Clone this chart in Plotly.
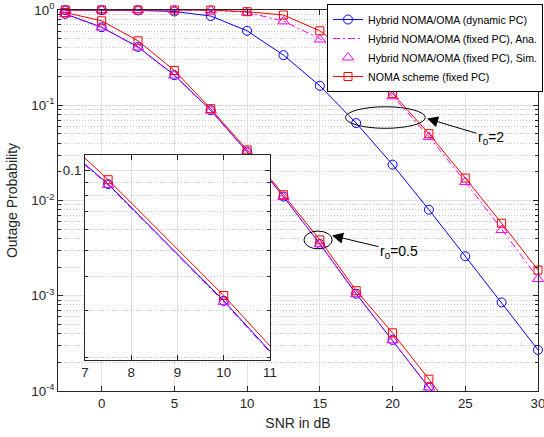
import plotly.graph_objects as go

# SNR grid (dB)
snr_db = [-2.5, 0, 2.5, 5, 7.5, 10, 12.5, 15, 17.5, 20, 22.5, 25, 27.5, 30]

# r0 = 2
dyn_pc_r2 = [1.0, 0.999, 0.99, 0.965, 0.865, 0.605, 0.336, 0.16, 0.065, 0.0238, 0.0080, 0.0026, 0.00085, 0.00027]
fixed_ana_r2 = [1.0, 1.0, 1.0, 1.0, 0.996, 0.945, 0.765, 0.50, 0.275, 0.125, 0.047, 0.0157, 0.0050, 0.00153]
fixed_sim_r2 = [1.0, 1.0, 1.0, 1.0, 0.995, 0.94, 0.76, 0.49, 0.27, 0.124, 0.0464, 0.0156, 0.0049, 0.0015]
noma_r2 = [1.0, 1.0, 1.0, 1.0, 0.998, 0.96, 0.886, 0.605, 0.31, 0.133, 0.0503, 0.0172, 0.00577, 0.00186]

# r0 = 0.5
dyn_pc_r05 = [0.91, 0.66, 0.41, 0.207, 0.0886, 0.0325, 0.011, 0.0035, 0.00105, 0.000344, 0.00011, 0.000035]
fixed_ana_r05 = [0.90, 0.655, 0.405, 0.205, 0.0880, 0.0322, 0.0109, 0.0035, 0.00104, 0.00034, 0.000109, 0.000034]
fixed_sim_r05 = [0.90, 0.655, 0.405, 0.205, 0.0880, 0.0322, 0.0109, 0.0035, 0.00104, 0.00034, 0.000109, 0.000034]
noma_r05 = [0.94, 0.77, 0.475, 0.232, 0.092, 0.034, 0.0115, 0.00386, 0.00113, 0.000408, 0.000133, 0.000042]

legend_names = [
    "Hybrid NOMA/OMA (dynamic PC)",
    "Hybrid NOMA/OMA (fixed PC), Ana.",
    "Hybrid NOMA/OMA (fixed PC), Sim.",
    "NOMA scheme (fixed PC)",
]

x_ticks = [0, 5, 10, 15, 20, 25, 30]
y_ticks = [1e-4, 1e-3, 1e-2, 1e-1, 1]
y_tick_text = ["10<sup>-4</sup>", "10<sup>-3</sup>", "10<sup>-2</sup>", "10<sup>-1</sup>", "10<sup>0</sup>"]
inset_x_ticks = [7, 8, 9, 10, 11]
inset_y_ticks = [0.1]
inset_y_tick_text = ["0.1"]

BLUE = "#0000FF"
MAGENTA = "#FF00FF"
RED = "#FF0000"
AXIS = "#262626"
GRID = "#dfdfdf"
MINOR_GRID = "#c4c4c4"
FONT = "Liberation Sans, Arial, sans-serif"

y_minor = [m * 10.0 ** e for e in range(-4, 0) for m in range(2, 10)]
inset_y_minor = [m / 100 for m in range(2, 10)]

# style per series: (color, marker symbol, dash, mode, marker size)
styles = [
    (BLUE, "circle-open", "solid", "lines+markers", 9),
    (MAGENTA, None, "7px,3px,2px,3px", "lines", 0),
    (MAGENTA, "triangle-up-open", None, "markers", 10),
    (RED, "square-open", "solid", "lines+markers", 8),
]

groups = [
    [dyn_pc_r2, fixed_ana_r2, fixed_sim_r2, noma_r2],
    [dyn_pc_r05, fixed_ana_r05, fixed_sim_r05, noma_r05],
]

fig = go.Figure()


def make_trace(y, k, xaxis, yaxis, showlegend, clip):
    color, symbol, dash, mode, msize = styles[k]
    kw = dict(
        x=snr_db[: len(y)],
        y=y,
        mode=mode,
        name=legend_names[k],
        legendgroup=legend_names[k],
        showlegend=showlegend,
        xaxis=xaxis,
        yaxis=yaxis,
        cliponaxis=clip,
        hoverinfo="skip",
    )
    if "lines" in mode:
        kw["line"] = dict(color=color, width=1, dash=dash)
    if "markers" in mode:
        kw["marker"] = dict(symbol=symbol, size=msize, color=color,
                            line=dict(color=color, width=1))
    return go.Scatter(**kw)


# main axes
for gi, grp in enumerate(groups):
    for k, y in enumerate(grp):
        fig.add_trace(make_trace(y, k, "x", "y", gi == 0, False))

# zoomed inset (r0 = 0.5 curves)
for k, y in enumerate(groups[1]):
    fig.add_trace(make_trace(y, k, "x2", "y2", False, True))

axis_common = dict(
    showline=True, linecolor=AXIS, linewidth=1, mirror="ticks",
    ticks="inside", ticklen=5, tickcolor=AXIS, tickwidth=1,
    showgrid=True, gridcolor=GRID, gridwidth=1, zeroline=False,
    tickfont=dict(family=FONT, size=13.3, color=AXIS),
    ticklabeloverflow="allow",
)

PL, PR, PT, PB = 58, 6, 10, 46
W, H = 544, 437
pw, ph = W - PL - PR, H - PT - PB
Y_RANGE = [-4, 0]


def ydom(log_val):
    """Fraction of the main y axis for a log10 value."""
    return (log_val - Y_RANGE[0]) / (Y_RANGE[1] - Y_RANGE[0])


fig.update_layout(
    width=W, height=H,
    margin=dict(l=PL, r=PR, t=PT, b=PB, autoexpand=False),
    paper_bgcolor="white", plot_bgcolor="white",
    font=dict(family=FONT, color=AXIS),
    xaxis=dict(
        range=[-3, 30], tickmode="array", tickvals=x_ticks,
        title=dict(text="SNR in dB", font=dict(family=FONT, size=14, color=AXIS), standoff=8),
        **axis_common,
    ),
    yaxis=dict(
        type="log", range=Y_RANGE, tickmode="array", tickvals=y_ticks, ticktext=y_tick_text,
        title=dict(text="Outage Probability", font=dict(family=FONT, size=14, color=AXIS), standoff=10),
        minor=dict(tickmode="array", tickvals=y_minor, ticks="inside", ticklen=3,
                   tickcolor=AXIS, showgrid=True, gridcolor=MINOR_GRID, griddash="1px,2px"),
        **axis_common,
    ),
    xaxis2=dict(
        domain=[(85 - PL) / pw, (270 - PL) / pw], anchor="y2",
        range=[7, 11], tickmode="array", tickvals=inset_x_ticks,
        **axis_common,
    ),
    yaxis2=dict(
        domain=[(H - PB - 360) / ph, (H - PB - 155) / ph], anchor="x2",
        type="log", range=[-1.709, -0.944], tickmode="array",
        tickvals=inset_y_ticks, ticktext=inset_y_tick_text,
        minor=dict(tickmode="array", tickvals=inset_y_minor, ticks="inside", ticklen=3,
                   tickcolor=AXIS, showgrid=True, gridcolor=MINOR_GRID, griddash="1px,2px"),
        **axis_common,
    ),
    legend=dict(
        xref="container", yref="container",
        x=327 / W, y=1 - 4 / H, xanchor="left", yanchor="top",
        bgcolor="white", bordercolor="#000000", borderwidth=1,
        font=dict(family=FONT, size=10.6, color="#000000"),
        traceorder="normal",
    ),
    showlegend=True,
)

# ellipses marking the two r0 groups
fig.add_shape(type="circle", xref="x", yref="y domain", x0=16.76, x1=22.25,
              y0=ydom(-1.242), y1=ydom(-1.016), line=dict(color="#000000", width=1))
fig.add_shape(type="circle", xref="x", yref="y domain", x0=13.91, x1=15.85,
              y0=ydom(-2.507), y1=ydom(-2.321), line=dict(color="#000000", width=1))

# labelled arrows
arrow_style = dict(showarrow=True, arrowhead=2, arrowsize=2.2, arrowwidth=1, arrowcolor="#000000",
                   font=dict(family=FONT, size=14, color="#000000"), standoff=0)
fig.add_annotation(x=22.37, y=-1.14, xref="x", yref="y", ax=64, ay=19,
                   text="r<sub>0</sub>=2", **arrow_style)
fig.add_annotation(x=15.84, y=-2.368, xref="x", yref="y", ax=67, ay=16,
                   text="r<sub>0</sub>=0.5", **arrow_style)

fig.write_html("out.html")
